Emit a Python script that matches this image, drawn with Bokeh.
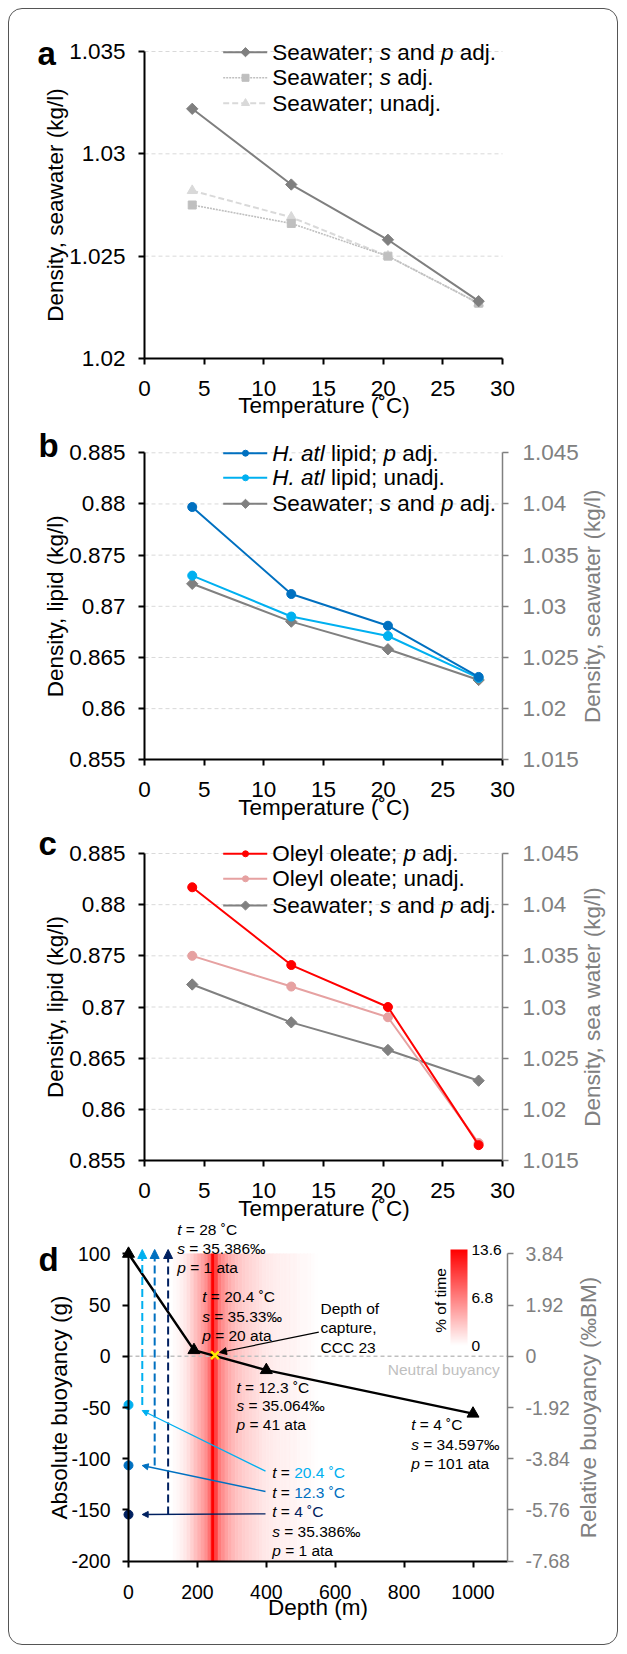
import math
from bokeh.plotting import figure
from bokeh.models import (Range1d, LinearAxis, FixedTicker, CustomJSTickFormatter, Label,
                          Arrow, NormalHead, ColorBar, LinearColorMapper, ColumnDataSource)
from bokeh.layouts import column
from bokeh.embed import file_html
from bokeh.resources import INLINE
from bokeh.core.properties import value

FONT = "Liberation Sans"

# ------------------------------------------------------------------ data
temperature = [4, 12.3, 20.4, 28]
seawater_s_p_adj = [1.0322, 1.0285, 1.0258, 1.0228]
seawater_s_adj = [1.0275, 1.0266, 1.0250, 1.0227]
seawater_unadj = [1.0282, 1.0269, 1.0250, 1.0227]
hatl_lipid_p_adj = [0.8797, 0.8712, 0.8681, 0.8631]
hatl_lipid_unadj = [0.8730, 0.8690, 0.8671, 0.8630]
oleyl_oleate_p_adj = [0.8817, 0.8741, 0.8700, 0.8565]
oleyl_oleate_unadj = [0.8750, 0.8720, 0.8690, 0.8567]

profile_depth = [0, 190, 400, 1000]
profile_buoyancy = [100, 6, -13.5, -56]
capture_depth = [251]
capture_buoyancy = [1]
surface_depth = [0, 0, 0]
surface_buoyancy = [-47.5, -106.5, -154.5]
surface_temp_labels = ["20.4 ˚C", "12.3 ˚C", "4 ˚C"]
surface_colors = ["#00B0F0", "#0070C0", "#002060"]
surface_arrow_depth = [40, 76, 115]

time_bin_start = [130, 140, 150, 160, 170, 180, 190, 200, 210, 220, 230, 240, 250, 260,
                  270, 280, 290, 300, 310, 320, 330, 340, 350, 360, 370, 380, 390, 400,
                  410, 420, 430, 440, 450, 460, 470, 480, 490, 500, 510, 520, 530, 540]
time_bin_width = 10
time_pct = [0.3, 0.5, 0.8, 1.2, 1.8, 2.6, 3.4, 4.2, 5.0, 6.0, 7.5, 13.6, 10.0, 7.0,
            6.0, 5.0, 4.4, 3.8, 3.3, 3.0, 2.7, 2.4, 2.2, 2.0, 1.7, 1.5, 1.3, 1.2,
            1.1, 1.0, 0.9, 0.8, 0.8, 0.7, 0.6, 0.6, 0.5, 0.4, 0.4, 0.3, 0.2, 0.1]

temp_ticks = [0, 5, 10, 15, 20, 25, 30]
sw_ticks_a = [1.02, 1.025, 1.03, 1.035]
lipid_ticks = [0.855, 0.86, 0.865, 0.87, 0.875, 0.88, 0.885]
sw_ticks_right = [1.015, 1.02, 1.025, 1.03, 1.035, 1.04, 1.045]
depth_ticks = [0, 200, 400, 600, 800, 1000]
abs_ticks = [-200, -150, -100, -50, 0, 50, 100]
rel_ticks = [-7.68, -5.76, -3.84, -1.92, 0, 1.92, 3.84]
time_ticks = [0, 6.8, 13.6]

# ------------------------------------------------------------------ layout helpers
W = 626
PAGE_LEFT = 0

class Geo:
    """maps page pixel positions to data values for a figure whose frame fills its canvas"""
    def __init__(s, page_top, height, xa, pxa, xb, pxb, ya, pya, yb, pyb):
        s.kx = (xb - xa) / (pxb - pxa)
        s.ky = (yb - ya) / (pyb - pya)
        s.xa, s.pxa, s.ya, s.pya = xa, pxa, ya, pya
        s.xlo = s.x(PAGE_LEFT)
        s.xhi = s.x(PAGE_LEFT + W)
        s.yhi = s.y(page_top)
        s.ylo = s.y(page_top + height)
    def x(s, px):
        return s.xa + (px - s.pxa) * s.kx
    def y(s, py):
        return s.ya + (py - s.pya) * s.ky

AWID = {' ': 278, '!': 278, '(': 333, ')': 333, ',': 278, '-': 333, '.': 278, '/': 278,
        ';': 278, '=': 584, '%': 889, '˚': 333, '°': 400, '‰': 1000,
        'A': 667, 'B': 667, 'C': 722, 'D': 722, 'H': 722, 'M': 833, 'N': 722, 'O': 778,
        'S': 667, 'T': 611,
        'a': 556, 'b': 556, 'c': 500, 'd': 556, 'e': 556, 'f': 278, 'g': 556, 'h': 556,
        'i': 222, 'j': 222, 'k': 500, 'l': 222, 'm': 833, 'n': 556, 'o': 556, 'p': 556,
        'q': 556, 'r': 333, 's': 500, 't': 278, 'u': 556, 'v': 500, 'w': 722, 'x': 500,
        'y': 500, 'z': 500}
for _d in "0123456789":
    AWID[_d] = 556

def tw(s, size):
    return sum(AWID.get(ch, 556) for ch in s) * size / 1000.0

def label(p, x, y, text, size, color="black", style="normal", align="left",
          baseline="middle", angle=0.0, x_offset=0.0):
    p.add_layout(Label(x=x, y=y, text=text, x_offset=x_offset, text_font=FONT,
                       text_font_size=f"{size}px", text_color=color, text_font_style=style,
                       text_align=align, text_baseline=baseline, angle=angle))

def rich(p, x, y, pieces, size):
    off = 0.0
    for piece in pieces:
        txt, ital = piece[0], piece[1]
        col = piece[2] if len(piece) > 2 else "black"
        core = txt.strip(" ")
        lead = len(txt) - len(txt.lstrip(" "))
        if core:
            label(p, x, y, core, size, color=col, style="italic" if ital else "normal",
                  x_offset=off + tw(" " * lead, size))
        off += tw(txt, size)

def make_fig(g, height):
    p = figure(width=W, height=height, x_range=Range1d(g.xlo, g.xhi),
               y_range=Range1d(g.ylo, g.yhi), output_backend="svg", toolbar_location=None,
               title=None, min_border_left=0, min_border_right=0, min_border_top=0,
               min_border_bottom=0)
    p.outline_line_color = None
    p.background_fill_color = None
    p.border_fill_color = None
    p.xgrid.visible = False
    p.ygrid.visible = False
    return p

def style_axis(ax, ticks, size, color="black", standoff=13, bounds=None, lw=2, loc=None):
    ax.ticker = FixedTicker(ticks=ticks)
    ax.formatter = CustomJSTickFormatter(code="return tick.toString()")
    ax.major_label_text_font = FONT
    ax.major_label_text_font_size = size
    ax.major_label_text_color = color
    ax.axis_line_color = color
    ax.axis_line_width = lw
    ax.major_tick_line_color = color
    ax.major_tick_line_width = lw
    ax.major_tick_out = 6
    ax.major_tick_in = 0
    ax.minor_tick_line_color = None
    ax.major_label_standoff = standoff
    if bounds is not None:
        ax.bounds = bounds
    if loc is not None:
        ax.fixed_location = loc

def axis_title(p, g, text, page_x, page_y, color="black", vertical=False):
    label(p, g.x(page_x), g.y(page_y), text, 22.5, color=color, align="center",
          angle=math.pi / 2 if vertical else 0.0)

def hgrid(p, ticks, x0, x1):
    p.segment(x0=[x0] * len(ticks), x1=[x1] * len(ticks), y0=ticks, y1=ticks,
              line_color="#D9D9D9", line_dash="4 3", line_width=1)

def legend_row(p, g, page_y, color, marker, msize, pieces, dash="solid", lw=2, angle=0.0):
    yy = g.y(page_y)
    p.line([g.x(222.7), g.x(266.7)], [yy, yy], line_color=color, line_width=lw, line_dash=dash)
    p.scatter([g.x(245)], [yy], marker=marker, size=msize, color=color, angle=angle)
    rich(p, g.x(271.7), yy, pieces, 22.5)

SP = [("Seawater; ", False), ("s", True), (" and ", False), ("p", True), (" adj.", False)]
GRAY = "#808080"
DIAM = dict(marker="square", angle=math.pi / 4)

HA, HB, HC, HD = 420, 402, 400, 431
TA, TB, TC, TD = 0, HA, HA + HB, HA + HB + HC

# ------------------------------------------------------------------ panel a
ga = Geo(TA, HA, 0, 144, 30, 502, 1.035, 51, 1.02, 358)
pa = make_fig(ga, HA)
style_axis(pa.xaxis[0], temp_ticks, "22.5px", standoff=16, bounds=(0, 30), loc=1.02)
style_axis(pa.yaxis[0], sw_ticks_a, "22.5px", standoff=13, bounds=(1.02, 1.035), loc=0)
axis_title(pa, ga, "Temperature (˚C)", 323.5, 405)
axis_title(pa, ga, "Density, seawater (kg/l)", 55, (51 + 358) / 2, vertical=True)
hgrid(pa, sw_ticks_a[1:], 0, 30)
pa.line(temperature, seawater_unadj, line_color="#D9D9D9", line_width=2, line_dash="6 3")
pa.scatter(temperature, seawater_unadj, marker="triangle", size=10, color="#D9D9D9")
pa.line(temperature, seawater_s_adj, line_color="#BFBFBF", line_width=1.6, line_dash="2 1")
pa.scatter(temperature, seawater_s_adj, marker="square", size=8, color="#BFBFBF")
pa.line(temperature, seawater_s_p_adj, line_color="#7F7F7F", line_width=2)
pa.scatter(temperature, seawater_s_p_adj, size=8, color="#7F7F7F", **DIAM)
legend_row(pa, ga, 51.7, "#7F7F7F", "square", 6.5, SP, angle=math.pi / 4)
legend_row(pa, ga, 77.3, "#BFBFBF", "square", 7,
           [("Seawater; ", False), ("s", True), (" adj.", False)], dash="2 1", lw=1.6)
legend_row(pa, ga, 102.7, "#D9D9D9", "triangle", 8, [("Seawater; unadj.", False)], dash="6 3")
label(pa, ga.x(37), ga.y(53), "a", 33, style="bold", baseline="alphabetic")

# ------------------------------------------------------------------ panels b, c
gb = Geo(TB, HB, 0, 144, 30, 502, 0.885, 452.3, 0.855, 759.3)
gb_r = Geo(TB, HB, 0, 144, 30, 502, 1.045, 452.3, 1.015, 759.3)
pb = make_fig(gb, HB)
gc = Geo(TC, HC, 0, 144, 30, 502, 0.885, 853, 0.855, 1160)
gc_r = Geo(TC, HC, 0, 144, 30, 502, 1.045, 853, 1.015, 1160)
pc = make_fig(gc, HC)

for p, g, gr, rtext, ytop, ybot in ((pb, gb, gb_r, "Density, seawater (kg/l)", 452.3, 759.3),
                                   (pc, gc, gc_r, "Density, sea water (kg/l)", 853, 1160)):
    style_axis(p.xaxis[0], temp_ticks, "22.5px", standoff=16, bounds=(0, 30), loc=0.855)
    style_axis(p.yaxis[0], lipid_ticks, "22.5px", standoff=13, bounds=(0.855, 0.885), loc=0)
    axis_title(p, g, "Temperature (˚C)", 323.5, ybot + 47.5)
    axis_title(p, g, "Density, lipid (kg/l)", 55, (ytop + ybot) / 2, vertical=True)
    hgrid(p, lipid_ticks[1:], 0, 30)
    p.extra_y_ranges = {"sw": Range1d(gr.ylo, gr.yhi)}
    rax = LinearAxis(y_range_name="sw")
    style_axis(rax, sw_ticks_right, "22.5px", color=GRAY, standoff=14, bounds=(1.015, 1.045),
               lw=1.5, loc=30)
    p.add_layout(rax, "right")
    axis_title(p, g, rtext, 591.7, (ytop + ybot) / 2, color=GRAY, vertical=True)

pb.line(temperature, seawater_s_p_adj, y_range_name="sw", line_color=GRAY, line_width=2)
pb.scatter(temperature, seawater_s_p_adj, y_range_name="sw", size=8, color=GRAY, **DIAM)
pb.line(temperature, hatl_lipid_unadj, line_color="#00B0F0", line_width=2)
pb.scatter(temperature, hatl_lipid_unadj, marker="circle", size=9, color="#00B0F0")
pb.line(temperature, hatl_lipid_p_adj, line_color="#0070C0", line_width=2)
pb.scatter(temperature, hatl_lipid_p_adj, marker="circle", size=9, color="#0070C0")
legend_row(pb, gb, 452.7, "#0070C0", "circle", 6,
           [("H. atl", True), (" lipid; ", False), ("p", True), (" adj.", False)])
legend_row(pb, gb, 477.3, "#00B0F0", "circle", 6, [("H. atl", True), (" lipid; unadj.", False)])
legend_row(pb, gb, 503.3, GRAY, "square", 6.5, SP, angle=math.pi / 4)
label(pb, gb.x(38), gb.y(445), "b", 33, style="bold", baseline="alphabetic")

pc.line(temperature, seawater_s_p_adj, y_range_name="sw", line_color=GRAY, line_width=2)
pc.scatter(temperature, seawater_s_p_adj, y_range_name="sw", size=8, color=GRAY, **DIAM)
pc.line(temperature, oleyl_oleate_unadj, line_color="#E6A1A1", line_width=2)
pc.scatter(temperature, oleyl_oleate_unadj, marker="circle", size=9, color="#E6A1A1")
pc.line(temperature, oleyl_oleate_p_adj, line_color="#FF0000", line_width=2)
pc.scatter(temperature, oleyl_oleate_p_adj, marker="circle", size=9, color="#FF0000")
legend_row(pc, gc, 853.3, "#FF0000", "circle", 6,
           [("Oleyl oleate; ", False), ("p", True), (" adj.", False)])
legend_row(pc, gc, 878.3, "#E6A1A1", "circle", 6, [("Oleyl oleate; unadj.", False)])
legend_row(pc, gc, 905.0, GRAY, "square", 6.5, SP, angle=math.pi / 4)
label(pc, gc.x(38), gc.y(842.7), "c", 33, style="bold", baseline="alphabetic")

# ------------------------------------------------------------------ panel d
gd = Geo(TD, HD, 0, 128, 1000, 472.5, 100, 1253.3, -200, 1560.7)
gd_r = Geo(TD, HD, 0, 128, 1000, 472.5, 3.84, 1253.3, -7.68, 1560.7)
pd_ = make_fig(gd, HD)
style_axis(pd_.xaxis[0], depth_ticks, "19.5px", standoff=18, bounds=(0, 1100), loc=-200)
style_axis(pd_.yaxis[0], abs_ticks, "19.5px", standoff=12, bounds=(-200, 100), loc=0)
axis_title(pd_, gd, "Depth (m)", 317.5, 1607)
axis_title(pd_, gd, "Absolute buoyancy (g)", 59, (1253.3 + 1560.7) / 2, vertical=True)
pd_.extra_y_ranges = {"rel": Range1d(gd_r.ylo, gd_r.yhi)}
rax = LinearAxis(y_range_name="rel")
style_axis(rax, rel_ticks, "19.5px", color=GRAY, standoff=12, bounds=(-7.68, 3.84), lw=1.5,
           loc=1100)
pd_.add_layout(rax, "right")
axis_title(pd_, gd, "Relative buoyancy (‰BM)", 588.3, (1253.3 + 1560.7) / 2, color=GRAY,
           vertical=True)

reds = ["#ff%02x%02x" % (255 - i, 255 - i) for i in range(256)]
mapper = LinearColorMapper(palette=reds, low=0, high=13.6)
band = ColumnDataSource(dict(left=time_bin_start,
                             right=[s + time_bin_width for s in time_bin_start],
                             pct=time_pct))
pd_.quad(left="left", right="right", top=100, bottom=-200, source=band,
         fill_color={"field": "pct", "transform": mapper},
         line_color={"field": "pct", "transform": mapper}, line_width=0.6)

pd_.segment(x0=[0], y0=[0], x1=[1100], y1=[0], line_color="#BFBFBF", line_width=1.5,
            line_dash="4 3")

for xd, yb, col in zip(surface_arrow_depth, surface_buoyancy, surface_colors):
    pd_.add_layout(Arrow(end=NormalHead(size=9, fill_color=col, line_color=col, line_width=1),
                         x_start=xd, y_start=yb, x_end=xd, y_end=gd.y(1249),
                         line_color=col, line_width=2, line_dash="8 4"))

pointer_start = [(265, 1470.7), (265, 1491.0), (265, 1513.3)]
pointer_end = [(141.7, 1410.0), (141.7, 1465.0), (141.7, 1514.0)]
for (sx, sy), (ex, ey), col in zip(pointer_start, pointer_end, surface_colors):
    pd_.add_layout(Arrow(end=NormalHead(size=6, fill_color=col, line_color=col, line_width=1),
                         x_start=gd.x(sx), y_start=gd.y(sy), x_end=gd.x(ex), y_end=gd.y(ey),
                         line_color=col, line_width=1.3))
pd_.add_layout(Arrow(end=NormalHead(size=7, fill_color="black", line_color="black", line_width=1),
                     x_start=gd.x(318.3), y_start=gd.y(1331.7), x_end=gd.x(219), y_end=gd.y(1352),
                     line_color="black", line_width=1.2))

pd_.line(profile_depth, profile_buoyancy, line_color="black", line_width=2.5)
pd_.scatter(profile_depth, profile_buoyancy, marker="triangle", size=12, color="black")
pd_.scatter(surface_depth, surface_buoyancy, marker="circle", size=9, color=surface_colors)
pd_.scatter(capture_depth, capture_buoyancy, marker="x", size=11, line_color="#FFEE00",
            line_width=2.5)

cb = ColorBar(color_mapper=mapper, ticker=FixedTicker(ticks=time_ticks),
              formatter=CustomJSTickFormatter(code="return tick.toString()"),
              orientation="vertical", width=17, height=96,
              location=(450 - PAGE_LEFT, (TD + HD) - 1345),
              padding=0, margin=0, background_fill_alpha=0, border_line_color=None,
              bar_line_color=None, major_tick_line_color=None, minor_tick_line_color=None,
              major_label_text_font=FONT, major_label_text_font_size="15.5px",
              major_label_text_color="black", label_standoff=4, title=None)
pd_.add_layout(cb, "center")
label(pd_, gd.x(440), gd.y(1300), "% of time", 15.5, align="center", angle=math.pi / 2)

TS = 15.5
def block(page_x, page_ys, lines):
    for py, pieces in zip(page_ys, lines):
        rich(pd_, gd.x(page_x), gd.y(py), pieces, TS)

def tsp(t, s, pp):
    return [[("t", True), (" = " + t, False)], [("s", True), (" = " + s, False)],
            [("p", True), (" = " + pp, False)]]

block(176.7, [1229.3, 1248.3, 1267.3], tsp("28 ˚C", "35.386‰", "1 ata"))
block(201.7, [1296.0, 1316.0, 1335.0], tsp("20.4 ˚C", "35.33‰", "20 ata"))
block(320.0, [1308.3, 1327.3, 1346.7], [[("Depth of", False)], [("capture,", False)],
                                       [("CCC 23", False)]])
block(236.0, [1386.7, 1405.0, 1424.3], tsp("12.3 ˚C", "35.064‰", "41 ata"))
block(410.7, [1424.0, 1444.0, 1462.7], tsp("4 ˚C", "34.597‰", "101 ata"))
surf_lines = [[("t", True), (" = ", False), (lab, False, col)]
              for lab, col in zip(surface_temp_labels, surface_colors)]
surf_lines += [[("s", True), (" = 35.386‰", False)], [("p", True), (" = 1 ata", False)]]
block(271.7, [1471.7, 1491.7, 1510.7, 1530.7, 1550.0], surf_lines)
label(pd_, gd.x(499.3), gd.y(1369.3), "Neutral buyancy", TS, color="#BFBFBF", align="right")
label(pd_, gd.x(38), gd.y(1259.3), "d", 33, style="bold", baseline="alphabetic")

layout = column(pa, pb, pc, pd_, styles={"outline": "1px solid #555555", "outline-offset": "-9px",
                                         "border-radius": "22px"})
open("out.html", "w").write(file_html(layout, INLINE))
